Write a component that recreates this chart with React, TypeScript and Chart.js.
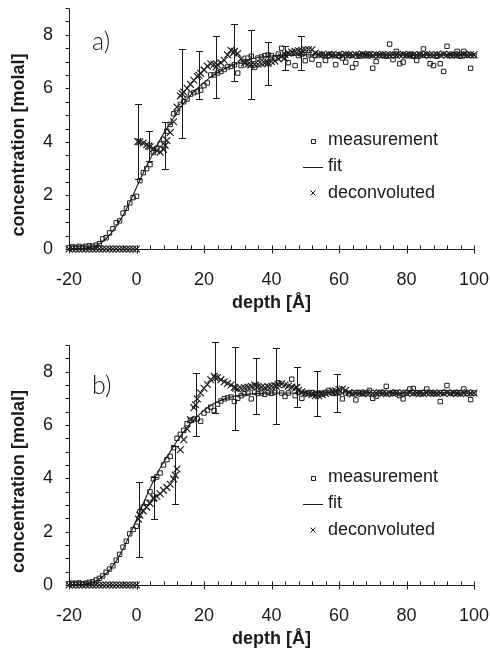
import React, { useEffect, useRef } from 'react';
import { Chart, registerables } from 'chart.js';

Chart.register(...registerables);

// ---------- axes ----------
const X_MIN = -20;
const X_MAX = 100;
const Y_MIN = 0;
const Y_MAX = 9;
const xTickLabels = [-20, 0, 20, 40, 60, 80, 100];
const yTickLabels = [0, 2, 4, 6, 8];
const xTitle = 'depth [Å]';
const yTitle = 'concentration [molal]';
const legendLabels = ['measurement', 'fit', 'deconvoluted'];

// samples start at depth -20 Å, one per Å
const GRID_START = -20;

// ---------- panel a ----------
const measA = [
  0.05, 0.08, 0.06, 0.1, 0.07, 0.1, 0.12, 0.1, 0.14, 0.2,
  0.38, 0.42, 0.6, 0.76, 0.98, 1.05, 1.34, 1.52, 1.72, 1.92,
  1.97, 2.55, 2.85, 3.0, 3.15, 3.6, 3.75, 3.92, 4.1, 4.4,
  4.65, 5.05, 5.1, 5.4, 5.5, 5.6, 5.78, 5.84, 5.88, 5.93,
  6.1, 6.2, 6.5, 6.5, 6.57, 6.63, 6.7, 6.8, 6.82, 6.88,
  6.57, 6.85, 7.0, 7.13, 7.2, 6.78, 7.13, 7.17, 7.22, 7.25,
  7.22, 7.13, 7.28, 7.5, 7.25, 6.96, 7.3, 6.85, 7.22, 7.28,
  7.03, 7.25, 7.09, 7.22, 6.88, 7.25, 7.04, 7.22, 7.27, 6.88,
  7.2, 7.13, 6.98, 7.24, 6.78, 6.92, 7.2, 7.26, 7.22, 7.28,
  6.75, 7.0, 7.22, 7.25, 7.2, 7.65, 7.07, 7.38, 6.92, 6.98,
  7.22, 7.27, 7.2, 7.04, 7.26, 7.47, 7.22, 6.92, 6.85, 7.2,
  6.92, 6.63, 7.57, 7.22, 7.26, 7.38, 7.2, 7.38, 7.25, 6.75,
  7.22,
];
const fitAX = [-20, -16, -14, -12, -10, -8, -6, -4, -2, 0, 2, 4, 6, 8, 10, 12, 14, 16, 18, 20, 22, 24, 26, 28, 30, 33, 36, 40, 45, 50, 60, 100];
const fitAY = [0, 0.02, 0.05, 0.12, 0.28, 0.52, 0.85, 1.25, 1.75, 2.3, 2.85, 3.35, 3.85, 4.3, 4.7, 5.1, 5.45, 5.75, 6.0, 6.22, 6.42, 6.58, 6.72, 6.85, 6.95, 7.07, 7.15, 7.21, 7.24, 7.25, 7.25, 7.25];
const deconA = [
  0, 0, 0, 0, 0, 0, 0, 0, 0, 0,
  0, 0, 0, 0, 0, 0, 0, 0, 0, 0,
  0, 4.0, 3.96, 3.9, 3.82, 3.75, 3.68, 3.62, 3.72, 4.05,
  4.35, 4.75, 5.3, 5.72, 5.86, 6.0, 6.15, 6.3, 6.44, 6.56,
  6.69, 6.83, 6.92, 6.9, 6.88, 6.95, 7.05, 7.25, 7.42, 7.38,
  7.3, 7.1, 6.95, 6.9, 6.88, 6.9, 6.9, 6.92, 6.95, 6.97,
  7.0, 7.02, 7.1, 7.18, 7.26, 7.32, 7.35, 7.38, 7.4, 7.42,
  7.44, 7.45, 7.44, 7.32, 7.27,
  7.26, 7.24, 7.27, 7.25, 7.23, 7.26, 7.24, 7.27, 7.25, 7.22,
  7.26, 7.25, 7.28, 7.24, 7.25, 7.23, 7.26, 7.25, 7.27, 7.24,
  7.25, 7.26, 7.23, 7.25, 7.27, 7.24, 7.26, 7.25, 7.23, 7.26,
  7.24, 7.27, 7.25, 7.24, 7.26, 7.25, 7.28, 7.24, 7.25, 7.26,
  7.23, 7.25, 7.27, 7.24, 7.26, 7.25,
];
const errAX = [0.4, 3.6, 8.5, 13.5, 18.5, 23.6, 28.8, 33.8, 38.9, 43.9, 48.8];
const errAY = [4.01, 3.85, 3.87, 5.8, 6.49, 6.8, 7.33, 6.88, 6.93, 7.13, 7.33];
const errAE = [1.41, 0.55, 0.89, 1.66, 0.89, 1.17, 1.07, 1.28, 0.8, 0.46, 0.64];

// ---------- panel b ----------
const measB = [
  0.05, 0.07, 0.06, 0.08, 0.05, 0.07, 0.1, 0.12, 0.19, 0.25,
  0.34, 0.48, 0.6, 0.72, 0.93, 1.15, 1.42, 1.64, 1.92, 2.08,
  2.2, 2.75, 2.92, 3.1, 3.5, 3.98, 4.05, 4.2, 4.5, 4.7,
  4.82, 5.15, 5.5, 5.65, 5.8, 6.05, 6.18, 6.22, 6.23, 6.14,
  6.45, 6.56, 6.67, 6.54, 6.78, 6.9, 6.98, 7.02, 7.05, 6.88,
  7.0, 7.1, 7.17, 7.2, 6.98, 7.23, 7.18, 7.2, 7.15, 7.22,
  7.19, 7.22, 7.58, 7.2, 7.07, 7.2, 7.72, 7.1, 7.22, 7.0,
  7.18, 7.2, 7.22, 7.18, 7.2, 7.17, 7.22, 7.3, 7.2, 7.18,
  7.22, 6.98, 7.2, 7.17, 7.2, 6.94, 7.22, 7.18, 7.2, 7.3,
  7.0, 7.08, 7.2, 7.22, 7.45, 7.18, 7.2, 7.22, 7.1, 6.98,
  7.2, 7.35, 7.37, 7.2, 7.18, 7.22, 7.35, 7.2, 7.18, 7.2,
  6.88, 7.22, 7.48, 7.2, 7.18, 7.22, 7.2, 7.35, 7.18, 6.95,
  7.2,
];
const fitBX = [-20, -16, -14, -12, -10, -8, -6, -4, -2, 0, 2, 4, 6, 8, 10, 12, 14, 16, 18, 20, 22, 24, 26, 28, 30, 33, 36, 40, 50, 100];
const fitBY = [0, 0.02, 0.06, 0.15, 0.32, 0.56, 0.9, 1.35, 1.88, 2.45, 3.05, 3.63, 4.15, 4.6, 5.0, 5.4, 5.75, 6.05, 6.32, 6.55, 6.73, 6.87, 6.97, 7.05, 7.1, 7.15, 7.18, 7.2, 7.2, 7.2];
const deconB = [
  0, 0, 0, 0, 0, 0, 0, 0, 0, 0,
  0, 0, 0, 0, 0, 0, 0, 0, 0, 0,
  0, 2.62, 2.78, 2.92, 3.06, 3.25, 3.33, 3.42, 3.55, 3.66,
  3.78, 3.98, 4.35, 5.07, 5.45, 5.85, 6.2, 6.65, 6.98, 7.2,
  7.38, 7.52, 7.7, 7.83, 7.78, 7.7, 7.62, 7.56, 7.5, 7.42,
  7.35, 7.38, 7.4, 7.42, 7.45, 7.5, 7.45, 7.42, 7.4, 7.44,
  7.46, 7.48, 7.52, 7.54, 7.5, 7.46, 7.42, 7.38, 7.3, 7.24,
  7.2, 7.17, 7.14, 7.1, 7.1, 7.14, 7.18, 7.22, 7.25, 7.28,
  7.33, 7.35, 7.3, 7.22, 7.17,
  7.19, 7.2, 7.17, 7.21, 7.19, 7.18, 7.2, 7.22, 7.19, 7.17,
  7.2, 7.19, 7.21, 7.18, 7.2, 7.19, 7.22, 7.18, 7.2, 7.19,
  7.17, 7.2, 7.21, 7.19, 7.18, 7.2, 7.19, 7.22, 7.18, 7.2,
  7.19, 7.17, 7.2, 7.21, 7.19, 7.2,
];
const errBX = [0.6, 5.2, 11.5, 17.5, 23.3, 29.3, 35.3, 41.4, 47.5, 53.4, 59.5];
const errBY = [2.47, 3.27, 4.12, 6.76, 7.77, 7.38, 7.47, 7.45, 7.41, 7.17, 7.21];
const errBE = [1.41, 0.78, 1.1, 1.19, 1.33, 1.56, 1.05, 1.43, 0.75, 0.85, 0.71];

// ---------- styling ----------
const INK = '#1a1a1a';
const MARK = '#202020';
const FAMILY = '"Liberation Sans", Arial, Helvetica, sans-serif';

type PanelProps = {
  top: number;
  height: number;
  padTop: number;
  label: string;
  labelDy: number;
  meas: number[];
  fitX: number[];
  fitY: number[];
  decon: number[];
  errX: number[];
  errY: number[];
  errE: number[];
};

function Panel(props: PanelProps) {
  const ref = useRef<HTMLCanvasElement | null>(null);

  useEffect(() => {
    const canvas = ref.current;
    if (!canvas) return;
    const { meas, fitX, fitY, decon, errX, errY, errE, label, labelDy, padTop } = props;
    const onGrid = (arr: number[]) => arr.map((v, i) => ({ x: GRID_START + i, y: v }));

    const deco = {
      id: 'deco',
      beforeDatasetsDraw(chart: any) {
        const { ctx } = chart;
        const xs = chart.scales.x;
        const ys = chart.scales.y;
        ctx.save();
        ctx.strokeStyle = INK;
        ctx.lineWidth = 1;
        const ax = Math.round(xs.getPixelForValue(X_MIN)) + 0.5;
        const ay = Math.round(ys.getPixelForValue(0)) + 0.5;
        const yTop = Math.round(ys.getPixelForValue(Y_MAX)) + 0.5;
        const xRight = Math.round(xs.getPixelForValue(X_MAX)) + 0.5;
        ctx.beginPath();
        ctx.moveTo(ax, yTop);
        ctx.lineTo(ax, ay);
        ctx.lineTo(xRight, ay);
        for (let v = Y_MIN; v <= Y_MAX + 1e-9; v += 0.5) {
          const p = Math.round(ys.getPixelForValue(v)) + 0.5;
          ctx.moveTo(ax - 4, p);
          ctx.lineTo(ax, p);
        }
        for (let v = X_MIN; v <= X_MAX + 1e-9; v += 4) {
          const p = Math.round(xs.getPixelForValue(v)) + 0.5;
          const major = Math.abs(v % 20) < 1e-9;
          ctx.moveTo(p, ay - 4);
          ctx.lineTo(p, major ? ay + 4 : ay);
        }
        ctx.stroke();

        // error bars on deconvoluted profile
        ctx.beginPath();
        errX.forEach((xv, i) => {
          const px = Math.round(xs.getPixelForValue(xv)) + 0.5;
          const t = Math.round(ys.getPixelForValue(errY[i] + errE[i])) + 0.5;
          const b = Math.round(ys.getPixelForValue(errY[i] - errE[i])) + 0.5;
          ctx.moveTo(px, t);
          ctx.lineTo(px, b);
          ctx.moveTo(px - 3.5, t);
          ctx.lineTo(px + 3.5, t);
          ctx.moveTo(px - 3.5, b);
          ctx.lineTo(px + 3.5, b);
        });
        ctx.stroke();
        ctx.restore();
      },
      afterDraw(chart: any) {
        const { ctx, chartArea } = chart;
        ctx.save();
        ctx.fillStyle = INK;
        ctx.strokeStyle = INK;
        ctx.lineWidth = 1;

        // y axis title
        ctx.save();
        ctx.translate(19.5, (chartArea.top + chartArea.bottom) / 2 + 16.5);
        ctx.rotate(-Math.PI / 2);
        ctx.font = `bold 18px ${FAMILY}`;
        ctx.textAlign = 'center';
        ctx.textBaseline = 'middle';
        ctx.fillText(yTitle, 0, 0);
        ctx.restore();

        // panel label
        ctx.font = `300 25px Lato, "Open Sans", ${FAMILY}`;
        ctx.textAlign = 'left';
        ctx.textBaseline = 'alphabetic';
        ctx.fillText(label, 92, chartArea.top + labelDy);

        // legend
        const rows = [132.5, 158.5, 185].map((d) => chartArea.top + d);
        const sx = 313;
        ctx.beginPath();
        ctx.rect(Math.round(sx - 2) + 0.5, Math.round(rows[0] - 2) + 0.5, 4, 4);
        ctx.moveTo(303, Math.round(rows[1]) + 0.5);
        ctx.lineTo(323, Math.round(rows[1]) + 0.5);
        ctx.moveTo(sx - 2.5, rows[2] - 2.5);
        ctx.lineTo(sx + 2.5, rows[2] + 2.5);
        ctx.moveTo(sx - 2.5, rows[2] + 2.5);
        ctx.lineTo(sx + 2.5, rows[2] - 2.5);
        ctx.stroke();
        ctx.font = `18px ${FAMILY}`;
        ctx.textBaseline = 'middle';
        legendLabels.forEach((t, i) => ctx.fillText(t, 328, rows[i]));
        ctx.restore();
      },
    };

    const chart = new Chart(canvas, {
      type: 'scatter',
      data: {
        datasets: [
          {
            label: legendLabels[1],
            data: fitX.map((x, i) => ({ x, y: fitY[i] })),
            showLine: true,
            borderColor: INK,
            borderWidth: 1.1,
            pointRadius: 0,
            cubicInterpolationMode: 'monotone',
            clip: false,
          } as any,
          {
            label: legendLabels[0],
            data: onGrid(meas),
            pointStyle: 'rect',
            pointRadius: 3.1,
            borderColor: MARK,
            backgroundColor: 'rgba(0,0,0,0)',
            borderWidth: 1,
            clip: false,
          } as any,
          {
            label: legendLabels[2],
            data: onGrid(decon),
            pointStyle: 'crossRot',
            pointRadius: 4.8,
            borderColor: MARK,
            borderWidth: 1.2,
            clip: false,
          } as any,
          {
            label: 'error centres',
            data: errX.map((x, i) => ({ x, y: errY[i] })),
            pointStyle: 'crossRot',
            pointRadius: 4.8,
            borderColor: MARK,
            borderWidth: 1.2,
            clip: false,
          } as any,
        ],
      },
      options: {
        animation: false,
        responsive: false,
        events: [],
        layout: { padding: { left: 0, right: 16, top: padTop, bottom: 0 } },
        plugins: { legend: { display: false }, tooltip: { enabled: false } },
        scales: {
          x: {
            type: 'linear',
            position: 'bottom',
            min: X_MIN,
            max: X_MAX,
            grid: { display: false, drawTicks: false },
            border: { display: false },
            afterBuildTicks: (s: any) => {
              s.ticks = xTickLabels.map((v) => ({ value: v }));
            },
            afterFit: (s: any) => {
              s.height = 66;
              s.paddingLeft = 0;
              s.paddingRight = 0;
            },
            ticks: {
              font: { family: FAMILY, size: 18 },
              color: INK,
              padding: 20,
              maxRotation: 0,
              autoSkip: false,
            },
            title: {
              display: true,
              text: xTitle,
              color: INK,
              font: { family: FAMILY, size: 18, weight: 'bold' },
              padding: { top: 0, bottom: 1 },
            },
          },
          y: {
            type: 'linear',
            position: 'left',
            min: Y_MIN,
            max: Y_MAX,
            grid: { display: false, drawTicks: false },
            border: { display: false },
            afterBuildTicks: (s: any) => {
              s.ticks = yTickLabels.map((v) => ({ value: v }));
            },
            afterFit: (s: any) => {
              s.width = 69;
              s.paddingTop = 0;
              s.paddingBottom = 0;
            },
            ticks: {
              font: { family: FAMILY, size: 18 },
              color: INK,
              padding: 16,
              autoSkip: false,
            },
          },
        },
      } as any,
      plugins: [deco],
    });

    return () => chart.destroy();
  }, []);

  return (
    <canvas
      ref={ref}
      width={490}
      height={props.height}
      style={{ position: 'absolute', left: 0, top: props.top, width: 490, height: props.height, display: 'block' }}
    />
  );
}

export default function App() {
  return (
    <div style={{ position: 'absolute', left: 0, top: 0, width: 490, height: 651, background: '#fff', overflow: 'hidden' }}>
      <Panel
        top={0}
        height={315}
        padTop={8}
        label="a)"
        labelDy={42}
        meas={measA}
        fitX={fitAX}
        fitY={fitAY}
        decon={deconA}
        errX={errAX}
        errY={errAY}
        errE={errAE}
      />
      <Panel
        top={325}
        height={326}
        padTop={20}
        label="b)"
        labelDy={49}
        meas={measB}
        fitX={fitBX}
        fitY={fitBY}
        decon={deconB}
        errX={errBX}
        errY={errBY}
        errE={errBE}
      />
    </div>
  );
}
